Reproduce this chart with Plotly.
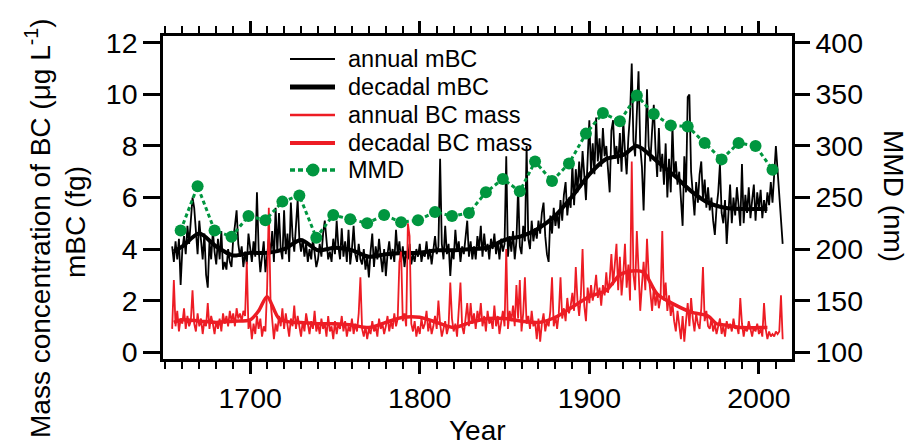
import plotly.graph_objects as go

# ---------------- data ----------------
annual_mbc_years = list(range(1654, 2011)) + [2014]
annual_mbc = [
    4.1, 3.5, 4.3, 3.6, 4.4, 2.6,
    4.0, 4.5, 3.8, 4.9, 4.2, 5.2, 6.0, 5.6, 4.8, 3.8,
    5.1, 4.4, 3.6, 4.6, 3.0, 2.5, 4.3, 3.6, 4.7, 3.9,
    3.4, 4.4, 3.6, 4.7, 3.2, 3.5, 3.2, 4.0, 3.5, 3.3,
    4.4, 4.9, 5.5, 4.2, 3.7, 4.1, 3.3, 3.9, 3.4, 4.6,
    3.9, 3.5, 4.3, 3.7, 6.2, 4.0, 3.1, 3.6, 4.3, 3.1,
    3.9, 4.4, 3.8, 4.7, 3.5, 5.6, 3.9, 5.4, 4.0, 3.6,
    5.5, 3.8, 4.6, 3.5, 5.8, 4.5, 3.9, 4.9, 5.9, 4.4,
    3.9, 4.4, 3.7, 4.2, 3.5, 4.0, 3.6, 4.4, 3.8, 3.3,
    3.6, 4.2, 3.7, 4.6, 5.1, 4.2, 3.6, 3.9, 3.5, 4.4,
    3.8, 5.1, 4.1, 3.6, 4.8, 3.7, 4.3, 3.5, 4.75, 3.4,
    4.0, 4.9, 3.8, 3.5, 4.2, 3.6, 3.4, 4.0, 3.2, 3.7,
    2.9, 3.9, 4.6, 3.3, 4.1, 3.6, 4.4, 3.7, 3.1, 4.0,
    2.95, 3.8, 4.3, 3.6, 4.0, 3.5, 4.75, 3.8, 4.3, 3.5,
    4.1, 3.3, 3.9, 3.6, 4.2, 3.4, 3.8, 3.5, 4.0, 3.7,
    4.2, 3.5, 3.9, 3.7, 4.3, 3.6, 4.0, 3.4, 3.9, 4.5,
    3.8, 4.1, 7.5, 4.2, 3.6, 4.9, 3.8, 4.2, 2.95, 4.0,
    3.6, 4.75, 3.9, 4.3, 3.5, 4.1, 3.8, 4.5, 5.1, 3.7,
    4.3, 3.6, 4.1, 3.6, 4.5, 4.0, 4.9, 3.7, 4.6, 3.9,
    4.2, 3.6, 4.4, 4.0, 4.6, 3.8, 4.3, 3.6, 4.4, 3.9,
    4.2, 7.6, 3.7, 4.5, 3.9, 4.7, 3.6, 4.3, 6.4, 4.1,
    3.8, 4.9, 4.3, 8.0, 4.4, 4.0, 5.1, 4.3, 4.8, 4.4,
    5.1, 4.6, 5.4, 5.8, 4.5, 3.8, 3.5, 5.3, 4.6, 5.6,
    4.9, 5.4, 4.8, 5.9, 5.1, 6.1, 6.6, 5.3, 6.0, 5.6,
    7.3, 5.7, 7.1, 6.2, 7.4, 6.4, 7.8, 6.9, 5.9, 7.5,
    9.0, 7.0, 8.1, 6.9, 9.1, 7.4, 8.3, 7.2, 8.7, 7.6,
    8.0, 7.1, 6.2, 8.6, 9.0, 7.5, 8.0, 7.3, 8.5, 7.0,
    9.0, 7.8, 6.9, 8.3, 9.2, 11.2, 8.2, 7.6, 9.5, 10.9,
    8.0, 7.2, 5.5, 8.2, 10.2, 8.0, 7.4, 8.6, 9.6, 7.9,
    6.8, 8.7, 7.0, 7.7, 6.5, 8.1, 6.0, 7.5, 6.2, 8.8,
    6.8, 7.4, 6.5, 7.0, 5.8, 4.9, 7.6, 6.2, 9.9, 10.0,
    7.0, 6.0, 5.3, 6.6, 5.8, 6.9, 7.4, 5.9, 6.7, 5.6,
    6.4, 5.5, 6.0, 5.1, 4.55, 5.6, 6.2, 7.3, 5.4, 5.0,
    5.9, 4.2, 5.5, 6.5, 5.0, 6.0, 5.3, 6.4, 5.7, 4.9,
    7.3, 5.0, 6.1, 5.4, 6.4, 5.2, 5.9, 6.5, 5.1, 6.2,
    5.6, 6.3, 5.2, 5.9, 5.4, 6.2, 5.7, 6.6, 5.8, 6.9,
    8.0,
    4.2,
]

decadal_mbc_years = [1655, 1660, 1670, 1680, 1690, 1700, 1710, 1720, 1730, 1740,
                     1750, 1760, 1770, 1780, 1790, 1800, 1810, 1820, 1830, 1840,
                     1850, 1860, 1870, 1880, 1890, 1900, 1910, 1920, 1928, 1940,
                     1950, 1960, 1970, 1980, 1990, 2000, 2005]
decadal_mbc = [3.9, 4.1, 4.6, 4.1, 3.75, 3.85, 3.85, 4.0, 4.35, 3.95,
               4.05, 3.95, 3.7, 3.8, 3.85, 3.85, 3.95, 3.95, 4.0, 4.05,
               4.35, 4.5, 4.8, 5.3, 6.05, 6.9, 7.5, 7.65, 8.0, 7.4,
               6.85, 6.25, 5.8, 5.6, 5.55, 5.55, 5.55]

annual_bc_years = list(range(1654, 2015))
annual_bc = [
    0.9, 2.8, 1.0, 1.6, 0.8, 1.3,
    1.1, 1.7, 0.9, 1.4, 1.0, 1.2, 2.4, 1.1, 0.8, 1.5,
    1.0, 1.3, 0.7, 1.2, 1.0, 1.9, 0.9, 1.4, 1.1, 0.7,
    1.2, 0.9, 1.3, 0.8, 1.5, 1.1, 1.4, 1.0, 1.6, 1.2,
    1.5, 1.0, 1.7, 1.3, 1.5, 1.2, 1.6, 1.4, 3.5, 0.9,
    1.2, 0.5, 1.1, 0.7, 1.4, 0.9, 1.3, 0.6, 1.0, 0.8,
    2.5, 5.6, 2.0, 1.3, 0.5, 1.1, 0.8, 1.4, 1.0, 1.7,
    0.9, 1.5, 1.1, 0.6, 1.3, 1.0, 1.8, 0.9, 1.4, 1.0,
    0.6, 1.2, 0.8, 1.5, 1.0, 0.7, 1.2, 0.9, 1.6, 0.8,
    1.1, 0.7, 1.3, 0.9, 1.1, 0.6, 1.4, 0.8, 1.0, 0.5,
    1.2, 0.7, 1.1, 0.9, 1.4, 0.8, 1.2, 0.6, 1.0, 0.8,
    1.3, 0.7, 1.1, 0.8, 1.5, 2.9, 0.9, 0.6, 1.0, 0.5,
    0.9, 0.7, 1.2, 0.8, 1.0, 0.6, 1.3, 0.9, 1.1, 0.7,
    1.0, 1.4, 0.8, 1.2, 0.9, 1.5, 1.0, 1.3, 3.5, 3.9,
    1.2, 1.5, 1.0, 5.0, 4.5, 1.1, 0.8, 1.2, 0.6, 1.0,
    0.7, 1.3, 0.9, 1.1, 1.6, 0.8, 1.2, 0.7, 1.0, 1.4,
    0.9, 2.0, 1.1, 0.6, 0.9, 1.2, 0.7, 1.0, 2.7, 1.3,
    0.8, 1.1, 0.6, 1.5, 2.7, 1.0, 0.7, 1.3, 1.9, 1.0,
    1.9, 1.1, 1.5, 0.9, 1.6, 1.2, 1.9, 1.0, 1.4, 0.8,
    1.6, 1.1, 1.3, 0.9, 1.8, 1.0, 1.4, 0.7, 1.2, 1.6,
    1.0, 4.0, 0.9, 1.6, 1.2, 1.8, 1.0, 2.6, 1.3, 2.8,
    0.8, 1.5, 2.9, 1.1, 1.4, 0.9, 1.6, 1.0, 1.2, 0.5,
    1.3, 0.4, 1.1, 1.5, 0.8, 1.2, 1.0, 1.6, 2.9, 1.0,
    1.4, 0.9, 1.5, 2.9, 1.3, 1.7, 1.2, 2.1, 1.5, 1.8,
    2.3, 1.6, 3.3, 2.0, 1.4, 2.2, 4.0, 1.8, 1.2, 2.5,
    1.9, 2.6, 2.0, 2.4, 3.0, 2.1, 2.5, 1.8, 2.6, 2.2,
    3.1, 2.3, 2.8, 3.8, 2.6, 3.3, 4.2, 2.4, 3.7, 2.2,
    3.0, 4.2, 2.5, 3.4, 2.0, 7.4, 3.0, 2.4, 4.7, 3.2,
    1.6, 2.6, 3.5, 2.4, 4.4, 3.0, 2.2, 1.6, 2.5, 1.8,
    2.3, 1.7, 2.1, 4.7, 2.0, 2.7, 1.6, 2.2, 1.4, 1.9,
    1.2, 0.8, 1.6, 1.1, 0.5, 1.4, 0.4, 1.2, 1.9, 1.0,
    2.1, 1.3, 0.8, 1.5, 1.1, 0.9, 1.7, 3.3, 1.2, 1.6,
    1.0, 0.9, 1.3, 0.8, 1.1, 0.7, 1.0, 1.3, 0.7, 1.0,
    0.6, 1.2, 0.9, 1.1, 0.8, 1.3, 0.9, 1.0, 0.7, 2.1,
    1.1, 0.6, 1.0, 0.8, 1.2, 0.9, 0.6, 1.0, 0.8, 1.1,
    0.7, 0.9, 0.6, 1.9, 0.9, 0.5, 0.8, 0.6, 0.7, 0.6,
    0.8, 0.7, 0.8, 2.2, 0.5,
]

decadal_bc_years = [1655, 1660, 1670, 1680, 1690, 1700, 1705, 1710, 1717, 1725,
                    1730, 1740, 1750, 1760, 1770, 1780, 1790, 1800, 1810, 1820,
                    1830, 1840, 1850, 1860, 1870, 1880, 1890, 1900, 1910, 1918,
                    1925, 1932, 1940, 1950, 1960, 1970, 1975, 1980, 1990, 2000, 2005]
decadal_bc = [1.15, 1.25, 1.2, 1.15, 1.2, 1.25, 1.6, 2.15, 1.3, 1.15,
              1.15, 1.1, 1.1, 1.05, 0.95, 1.15, 1.35, 1.35, 1.15, 0.95,
              1.15, 1.3, 1.3, 1.2, 1.15, 1.35, 1.75, 2.15, 2.4, 3.0,
              3.15, 3.1, 2.25, 1.85, 1.55, 1.4, 1.1, 1.05, 0.95, 0.95, 0.95]

mmd_years = [1659, 1669, 1679, 1689, 1699, 1709, 1719, 1729, 1739, 1749,
             1759, 1769, 1779, 1789, 1799, 1809, 1819, 1829, 1839, 1849,
             1859, 1868, 1878, 1888, 1898, 1908, 1918, 1928, 1938, 1948,
             1958, 1968, 1978, 1988, 1998, 2008]
mmd = [218, 261, 218, 212, 232, 228, 246, 252, 211, 233,
       229, 225, 233, 226, 228, 236, 232, 235, 255, 268,
       256, 285, 266, 283, 312, 332, 324, 349, 331, 320,
       319, 303, 287, 303, 300, 277]

x_tickvals = [1700, 1800, 1900, 2000]
y_tickvals = [0, 2, 4, 6, 8, 10, 12]
y2_tickvals = [100, 150, 200, 250, 300, 350, 400]

legend_labels = ["annual mBC", "decadal mBC", "annual BC mass", "decadal BC mass", "MMD"]

# ---------------- figure ----------------
BLACK = "#000000"
RED = "#ED1C24"
GREEN = "#00963F"
FONT = "Liberation Sans, Arial, sans-serif"
GREEN_DASH = "4px,3px"

# plot area in pixels (for placing the hand-made legend and titles)
L, R, T, B = 163, 792, 36, 359
W, H = R - L, B - T


def px(xp):
    return (xp - L) / W


def py(yp):
    return (B - yp) / H


fig = go.Figure()
fig.add_trace(go.Scatter(x=annual_mbc_years, y=annual_mbc, mode="lines",
                         name=legend_labels[0], line=dict(color=BLACK, width=1.8)))
fig.add_trace(go.Scatter(x=decadal_mbc_years, y=decadal_mbc, mode="lines",
                         name=legend_labels[1],
                         line=dict(color=BLACK, width=4, shape="spline", smoothing=0.8)))
fig.add_trace(go.Scatter(x=annual_bc_years, y=annual_bc, mode="lines",
                         name=legend_labels[2], line=dict(color=RED, width=1.8)))
fig.add_trace(go.Scatter(x=decadal_bc_years, y=decadal_bc, mode="lines",
                         name=legend_labels[3],
                         line=dict(color=RED, width=3.5, shape="spline", smoothing=0.8)))
fig.add_trace(go.Scatter(x=mmd_years, y=mmd, mode="lines+markers", name=legend_labels[4],
                         yaxis="y2",
                         line=dict(color=GREEN, width=3, dash=GREEN_DASH),
                         marker=dict(color=GREEN, size=12)))

axis_common = dict(showline=True, linewidth=2.5, linecolor="black", showgrid=False,
                   zeroline=False, ticks="outside", tickcolor="black", tickwidth=2.5,
                   tickfont=dict(family=FONT, size=28.5, color="black"))

fig.update_layout(
    width=911, height=445,
    margin=dict(l=L, r=911 - R, t=T, b=445 - B),
    paper_bgcolor="white", plot_bgcolor="white",
    font=dict(family=FONT, color="black"),
    showlegend=False,
    xaxis=dict(range=[1648.6, 2019.5], tickmode="array", tickvals=x_tickvals,
               ticklen=12, mirror="ticks",
               minor=dict(dtick=10, tick0=1650, ticklen=7, tickwidth=2,
                          ticks="outside", tickcolor="black"),
               **axis_common),
    yaxis=dict(range=[-0.27, 12.27], tickmode="array", tickvals=y_tickvals,
               ticklen=17, mirror=False, **axis_common),
    yaxis2=dict(range=[93.25, 406.75], tickmode="array", tickvals=y2_tickvals,
                overlaying="y", side="right", ticklen=15, **axis_common),
)

# ---- hand-made legend (matches reference spacing) ----
rows = [59, 87, 115, 143, 170]
styles = [(BLACK, 2, "solid"), (BLACK, 5, "solid"), (RED, 2.5, "solid"),
          (RED, 4, "solid"), (GREEN, 3.5, "5px,3px")]
for label, yrow, (col, wid, dash) in zip(legend_labels, rows, styles):
    fig.add_shape(type="line", xref="paper", yref="paper",
                  x0=px(290), x1=px(335), y0=py(yrow), y1=py(yrow),
                  line=dict(color=col, width=wid, dash=dash))
    fig.add_annotation(text=label, xref="paper", yref="paper",
                       x=px(346), y=py(yrow), xanchor="left", yanchor="middle",
                       showarrow=False,
                       font=dict(family=FONT, size=23.5, color="black"))
fig.add_shape(type="circle", xref="paper", yref="paper",
              x0=px(306.5), x1=px(319.5), y0=py(rows[4] + 6.5), y1=py(rows[4] - 6.5),
              fillcolor=GREEN, line=dict(color=GREEN, width=0))

TITLE_SIZE = 28
fig.add_annotation(text="Mass concentration of BC (μg L<sup>-1</sup>)",
                   xref="paper", yref="paper", x=px(38), y=py(228),
                   xanchor="center", yanchor="middle", textangle=-90, showarrow=False,
                   font=dict(family=FONT, size=TITLE_SIZE, color="black"))
fig.add_annotation(text="mBC (fg)",
                   xref="paper", yref="paper", x=px(75), y=py(222),
                   xanchor="center", yanchor="middle", textangle=-90, showarrow=False,
                   font=dict(family=FONT, size=TITLE_SIZE, color="black"))
fig.add_annotation(text="MMD (nm)",
                   xref="paper", yref="paper", x=px(893), y=py(196),
                   xanchor="center", yanchor="middle", textangle=90, showarrow=False,
                   font=dict(family=FONT, size=TITLE_SIZE, color="black"))
fig.add_annotation(text="Year",
                   xref="paper", yref="paper", x=px(478), y=py(431),
                   xanchor="center", yanchor="middle", showarrow=False,
                   font=dict(family=FONT, size=TITLE_SIZE, color="black"))

fig.write_html("out.html")
